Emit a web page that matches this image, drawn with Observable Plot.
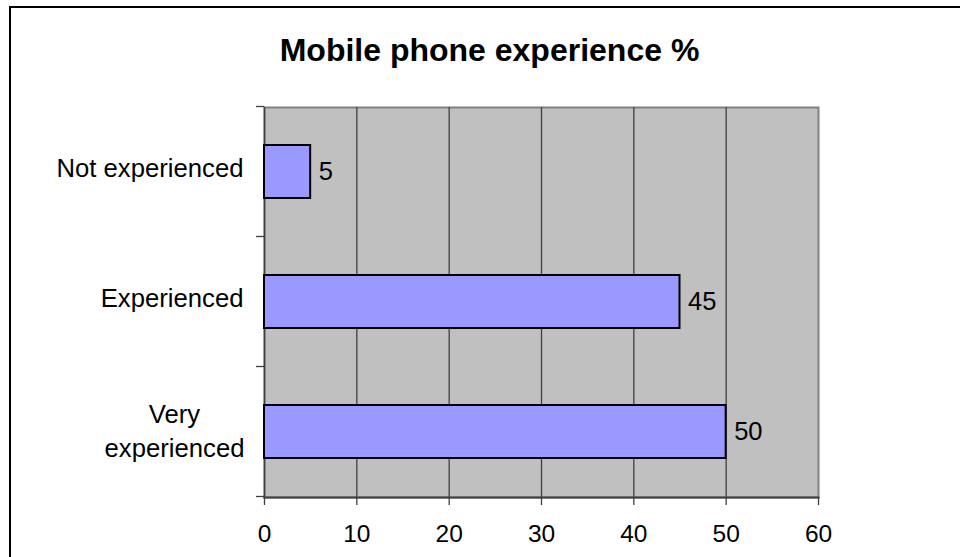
<!DOCTYPE html>
<html>
<head>
<meta charset="utf-8">
<script src="https://cdn.jsdelivr.net/npm/d3@7"></script>
<script src="https://cdn.jsdelivr.net/npm/@observablehq/plot@0.6"></script>
<style>
  html, body { margin: 0; padding: 0; background: #fff; overflow: hidden; }
  #wrap { position: relative; width: 960px; height: 557px; font-family: "Liberation Sans", Arial, sans-serif; }
  #border { position: absolute; left: 9px; top: 6px; width: 960px; height: 600px; border-left: 2px solid #000; border-top: 2px solid #000; }
  #title { position: relative; box-sizing: border-box; width: 979px; height: 80px; padding-top: 34px; line-height: 32px; text-align: center; font-weight: bold; font-size: 32px; color: #000; }
  #chart { position: relative; }
  #chart svg { display: block; background: transparent; }
</style>
</head>
<body>
<div id="wrap">
  <div id="border"></div>
  <div id="title">Mobile phone experience %</div>
  <div id="chart"></div>
</div>
<script>
const categories = ["Not experienced", "Experienced", "Very experienced"];
const values = [5, 45, 50];
const xTicks = [0, 10, 20, 30, 40, 50, 60];
const gridTicks = [10, 20, 30, 40, 50];

const data = categories.map((c, i) => ({category: c, value: values[i]}));
const singleLine = categories.filter(c => c !== "Very experienced");
const wrapped = categories.filter(c => c === "Very experienced");

function categoryBoundaryTicks(index, scales, values, dims) {
  const y = scales.y;
  const bw = typeof y.bandwidth === "function" ? y.bandwidth() : scales.scales.y.bandwidth;
  const step = typeof y.step === "function" ? y.step() : scales.scales.y.step;
  const g = d3.create("svg:g").attr("stroke", "#404040").attr("stroke-width", 1.3);
  const bounds = new Set();
  for (const c of categories) {
    const mid = y(c) + bw / 2;
    bounds.add(Math.round((mid - step / 2) * 10) / 10);
    bounds.add(Math.round((mid + step / 2) * 10) / 10);
  }
  for (const b of bounds) {
    g.append("line")
      .attr("x1", dims.marginLeft - 8).attr("x2", dims.marginLeft)
      .attr("y1", b).attr("y2", b);
  }
  return g.node();
}

const chart = Plot.plot({
  width: 960,
  height: 477,
  marginTop: 27,
  marginBottom: 60,
  marginLeft: 264,
  marginRight: 142,
  style: {fontFamily: "'Liberation Sans', Arial, sans-serif", fontSize: "25px", color: "#000", background: "transparent"},
  x: {domain: [0, 60], label: null},
  y: {domain: categories, paddingInner: 0.592, paddingOuter: 0.296, label: null},
  marks: [
    Plot.frame({fill: "#C0C0C0", stroke: "#808080", strokeWidth: 2}),
    Plot.ruleX(gridTicks, {stroke: "#404040", strokeWidth: 1.3}),
    Plot.frame({anchor: "left", stroke: "#404040", strokeWidth: 1.5}),
    Plot.frame({anchor: "bottom", stroke: "#404040", strokeWidth: 2}),
    Plot.barX(data, {x: "value", y: "category", fill: "#9999FF", stroke: "#000", strokeWidth: 2}),
    Plot.text(data, {x: "value", y: "category", text: d => String(d.value), textAnchor: "start", dx: 8, fontSize: 25.5, fill: "#000"}),
    Plot.axisX(xTicks, {tickSize: 8, tickPadding: 19, stroke: "#404040", strokeWidth: 1.3, fontSize: 24.5, fill: "#000"}),
    Plot.axisY(singleLine, {tickSize: 0, tickPadding: 21, fontSize: 25.7, fill: "#000", dy: -3}),
    Plot.axisY(wrapped, {tickSize: 0, tickPadding: 0, textAnchor: "middle", dx: -90, dy: -3, lineHeight: 1.33, fontSize: 25.7, fill: "#000",
      tickFormat: d => d.replace(" ", "\n")}),
    categoryBoundaryTicks
  ]
});
document.getElementById("chart").appendChild(chart);
</script>
</body>
</html>
